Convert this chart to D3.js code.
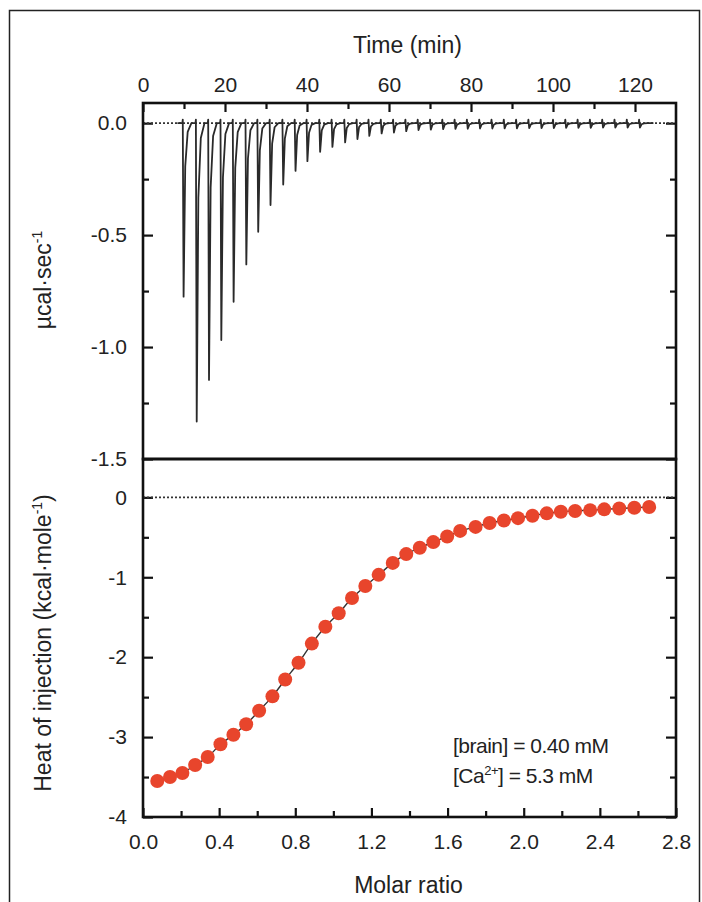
<!DOCTYPE html>
<html>
<head>
<meta charset="utf-8">
<script src="https://cdn.jsdelivr.net/npm/d3@7"></script>
<style>
    html, body { margin: 0; padding: 0; background: #fff; }
    svg { display: block; font-family: "Liberation Sans", Arial, sans-serif; }
</style>
</head>
<body>
<div id="chart"></div>
<script>
// injections (min) and peak minima (µcal/sec) of the raw thermogram
const injectionTimes = [9.6, 12.8, 15.8, 18.8, 21.8, 24.9, 27.8, 30.8, 33.9, 36.9,
    39.8, 42.9, 45.9, 49.0, 52.0, 54.9, 57.9, 60.9, 63.9, 66.9,
    69.9, 72.9, 75.9, 78.9, 81.9, 84.9, 87.9, 90.9, 93.9, 96.9,
    99.9, 102.9, 105.9, 108.9, 111.9, 114.9, 117.9, 120.9];
const peakMinima = [-0.775, -1.333, -1.147, -0.969, -0.798, -0.631, -0.485, -0.366, -0.274, -0.213,
    -0.170, -0.128, -0.106, -0.086, -0.071, -0.057, -0.046, -0.042, -0.036, -0.031,
    -0.029, -0.027, -0.026, -0.025, -0.024, -0.024, -0.023, -0.023, -0.022, -0.022,
    -0.022, -0.021, -0.021, -0.021, -0.020, -0.020, -0.020, -0.020];

// integrated heats (kcal/mole) vs molar ratio
const molarRatio = [0.075, 0.142, 0.207, 0.274, 0.340, 0.407, 0.475, 0.542, 0.610, 0.680,
    0.747, 0.817, 0.887, 0.958, 1.028, 1.098, 1.168, 1.238, 1.312, 1.383,
    1.454, 1.525, 1.598, 1.666, 1.747, 1.821, 1.896, 1.970, 2.046, 2.121,
    2.195, 2.270, 2.349, 2.423, 2.502, 2.581, 2.659];
const heatValues = [-3.55, -3.50, -3.45, -3.35, -3.25, -3.09, -2.97, -2.84, -2.67, -2.49,
    -2.28, -2.07, -1.83, -1.62, -1.45, -1.26, -1.11, -0.97, -0.82, -0.71,
    -0.63, -0.56, -0.49, -0.42, -0.37, -0.32, -0.29, -0.26, -0.23, -0.20,
    -0.18, -0.17, -0.16, -0.15, -0.14, -0.13, -0.12];

const timeTicks = [0, 20, 40, 60, 80, 100, 120];
const timeMinor = [10, 30, 50, 70, 90, 110];
const rateTicks = [0, -0.5, -1.0, -1.5];
const rateMinor = [-0.25, -0.75, -1.25];
const heatTicks = [0, -1, -2, -3, -4];
const heatMinor = [-0.5, -1.5, -2.5, -3.5];
const ratioTicks = [0, 0.4, 0.8, 1.2, 1.6, 2.0, 2.4, 2.8];
const ratioMinor = [0.2, 0.6, 1.0, 1.4, 1.8, 2.2, 2.6];

const W = 702, H = 902;
const left = 143, right = 676;
const topY = 103, midY = 459, bottomY = 817;
const font = 21;
const titleFont = 23;
const red = '#e8452c';

const svg = d3.select('#chart')
    .append('svg')
    .attr('width', W)
    .attr('height', H);

// outer figure frame
svg.append('rect')
    .attr('x', 9.5).attr('y', 10.5)
    .attr('width', 690).attr('height', 1000)
    .attr('fill', 'none')
    .attr('stroke', '#222')
    .attr('stroke-width', 1.5);

const xTime = d3.scaleLinear().domain([0, 130]).range([left, right]);
const yRate = d3.scaleLinear().domain([-1.5, 0.09]).range([midY, topY]);
const xRatio = d3.scaleLinear().domain([0, 2.8]).range([left, right]);
const yHeat = d3.scaleLinear().domain([-4, 0.48]).range([bottomY, midY]);

function styleAxis (g) {
    g.select('.domain').remove();
    g.selectAll('line').attr('stroke', '#111').attr('stroke-width', 2.2);
    g.selectAll('text')
        .attr('fill', '#222')
        .style('font-size', font + 'px');
}

// ---- top panel: raw data ----
svg.append('g')
    .attr('transform', `translate(0, ${topY})`)
    .call(d3.axisTop(xTime).tickValues(timeTicks).tickSize(-9).tickPadding(11))
    .call(styleAxis);
svg.append('g')
    .attr('transform', `translate(0, ${topY})`)
    .call(d3.axisTop(xTime).tickValues(timeMinor).tickSize(-6).tickFormat(''))
    .call(styleAxis);

svg.append('g')
    .attr('transform', `translate(${left}, 0)`)
    .call(d3.axisLeft(yRate).tickValues(rateTicks).tickSize(-10).tickPadding(16)
        .tickFormat((d) => d.toFixed(1)))
    .call(styleAxis);
svg.append('g')
    .attr('transform', `translate(${left}, 0)`)
    .call(d3.axisLeft(yRate).tickValues(rateMinor).tickSize(-6).tickFormat(''))
    .call(styleAxis);
svg.append('g')
    .attr('transform', `translate(${right}, 0)`)
    .call(d3.axisRight(yRate).tickValues(rateTicks).tickSize(-10).tickFormat(''))
    .call(styleAxis);
svg.append('g')
    .attr('transform', `translate(${right}, 0)`)
    .call(d3.axisRight(yRate).tickValues(rateMinor).tickSize(-6).tickFormat(''))
    .call(styleAxis);

// zero baseline
svg.append('line')
    .attr('x1', left).attr('x2', right)
    .attr('y1', yRate(0)).attr('y2', yRate(0))
    .attr('stroke', '#333')
    .attr('stroke-width', 1.8)
    .attr('stroke-dasharray', '2,2');

// thermogram built from each injection's minimum
const shapeT = [0, 0.1, 0.3, 0.7, 1.3, 2.2];
const shapeF = [0, -0.6, 1, 0.25, 0.05, 0];
const trace = [[8.4, 0]];
injectionTimes.forEach((t, i) => {
    const depth = peakMinima[i];
    shapeT.forEach((dt, j) => {
        const v = shapeF[j] < 0 ? 0.016 : depth * shapeF[j];
        trace.push([t + dt, v]);
    });
});
trace.push([124.5, 0]);

svg.append('path')
    .datum(trace)
    .attr('fill', 'none')
    .attr('stroke', '#2a2a2a')
    .attr('stroke-width', 1.8)
    .attr('stroke-linejoin', 'round')
    .attr('d', d3.line()
        .x((d) => xTime(d[0]))
        .y((d) => yRate(d[1])));

// ---- bottom panel: integrated heats ----
svg.append('g')
    .attr('transform', `translate(0, ${bottomY})`)
    .call(d3.axisBottom(xRatio).tickValues(ratioTicks).tickSize(-9).tickPadding(17)
        .tickFormat((d) => d.toFixed(1)))
    .call(styleAxis);
svg.append('g')
    .attr('transform', `translate(0, ${bottomY})`)
    .call(d3.axisBottom(xRatio).tickValues(ratioMinor).tickSize(-6).tickFormat(''))
    .call(styleAxis);

svg.append('g')
    .attr('transform', `translate(${left}, 0)`)
    .call(d3.axisLeft(yHeat).tickValues(heatTicks).tickSize(-10).tickPadding(16)
        .tickFormat((d) => String(d)))
    .call(styleAxis);
svg.append('g')
    .attr('transform', `translate(${left}, 0)`)
    .call(d3.axisLeft(yHeat).tickValues(heatMinor).tickSize(-6).tickFormat(''))
    .call(styleAxis);
svg.append('g')
    .attr('transform', `translate(${right}, 0)`)
    .call(d3.axisRight(yHeat).tickValues(heatTicks).tickSize(-10).tickFormat(''))
    .call(styleAxis);
svg.append('g')
    .attr('transform', `translate(${right}, 0)`)
    .call(d3.axisRight(yHeat).tickValues(heatMinor).tickSize(-6).tickFormat(''))
    .call(styleAxis);

svg.append('line')
    .attr('x1', left).attr('x2', right)
    .attr('y1', yHeat(0)).attr('y2', yHeat(0))
    .attr('stroke', '#333')
    .attr('stroke-width', 1.8)
    .attr('stroke-dasharray', '2,2');

const heatData = molarRatio.map((m, i) => ({ ratio: m, heat: heatValues[i] }));

// fit curve through the points
svg.append('path')
    .datum(heatData)
    .attr('fill', 'none')
    .attr('stroke', '#333')
    .attr('stroke-width', 1.4)
    .attr('d', d3.line()
        .curve(d3.curveCatmullRom)
        .x((d) => xRatio(d.ratio))
        .y((d) => yHeat(d.heat)));

svg.selectAll('.pt')
    .data(heatData)
    .enter()
    .append('circle')
    .classed('pt', true)
    .attr('cx', (d) => xRatio(d.ratio))
    .attr('cy', (d) => yHeat(d.heat))
    .attr('r', 7)
    .attr('fill', red);

// panel frames
svg.append('rect')
    .attr('x', left).attr('y', topY)
    .attr('width', right - left).attr('height', midY - topY)
    .attr('fill', 'none').attr('stroke', '#111').attr('stroke-width', 2.6);
svg.append('rect')
    .attr('x', left).attr('y', midY)
    .attr('width', right - left).attr('height', bottomY - midY)
    .attr('fill', 'none').attr('stroke', '#111').attr('stroke-width', 2.6);

// ---- titles ----
svg.append('text')
    .attr('x', (left + right) / 2 - 2)
    .attr('y', 53)
    .attr('text-anchor', 'middle')
    .attr('fill', '#222')
    .style('font-size', titleFont + 'px')
    .text('Time (min)');

svg.append('text')
    .attr('x', (left + right) / 2 - 1)
    .attr('y', 893)
    .attr('text-anchor', 'middle')
    .attr('fill', '#222')
    .style('font-size', titleFont + 'px')
    .text('Molar ratio');

const rateLabel = svg.append('text')
    .attr('transform', `translate(51, 280) rotate(-90)`)
    .attr('text-anchor', 'middle')
    .attr('fill', '#222')
    .style('font-size', titleFont + 'px');
rateLabel.append('tspan').text('µcal·sec');
rateLabel.append('tspan').attr('dy', -9).style('font-size', '14px').text('-1');

const heatLabel = svg.append('text')
    .attr('transform', `translate(51, 643) rotate(-90)`)
    .attr('text-anchor', 'middle')
    .attr('fill', '#222')
    .style('font-size', titleFont + 'px');
heatLabel.append('tspan').text('Heat of injection (kcal·mole');
heatLabel.append('tspan').attr('dy', -9).style('font-size', '14px').text('-1');
heatLabel.append('tspan').attr('dy', 9).text(')');

// ---- annotation ----
const note = svg.append('g')
    .attr('fill', '#222')
    .style('font-size', '21px')
    .style('letter-spacing', '-0.5px');
note.append('text')
    .attr('x', 453).attr('y', 753)
    .text('[brain] = 0.40 mM');
const ca = note.append('text')
    .attr('x', 453).attr('y', 783);
ca.append('tspan').text('[Ca');
ca.append('tspan').attr('dy', -8).style('font-size', '13px').text('2+');
ca.append('tspan').attr('dy', 8).text('] = 5.3 mM');
</script>
</body>
</html>
